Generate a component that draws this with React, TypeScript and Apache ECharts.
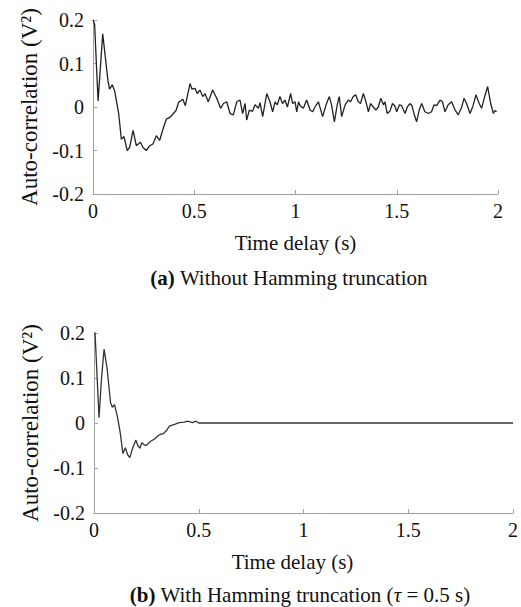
import React, { useEffect, useRef } from "react";
import * as echarts from "echarts";

const xTicks = [0, 0.5, 1, 1.5, 2];
const yTicks = [-0.2, -0.1, 0, 0.1, 0.2];

const topT = [0, 0.008, 0.025, 0.048, 0.074, 0.082, 0.095, 0.107, 0.127, 0.14, 0.153, 0.169, 0.181, 0.198, 0.214, 0.234, 0.247, 0.263, 0.28, 0.296, 0.313, 0.329, 0.346, 0.362, 0.379, 0.395, 0.41, 0.423, 0.444, 0.456, 0.479, 0.489, 0.504, 0.515, 0.528, 0.542, 0.553, 0.569, 0.591, 0.611, 0.63, 0.644, 0.66, 0.677, 0.693, 0.71, 0.726, 0.739, 0.751, 0.759, 0.772, 0.788, 0.8, 0.817, 0.825, 0.838, 0.858, 0.874, 0.887, 0.899, 0.91, 0.923, 0.936, 0.948, 0.96, 0.976, 0.986, 0.998, 1.006, 1.015, 1.023, 1.039, 1.055, 1.072, 1.085, 1.096, 1.113, 1.134, 1.151, 1.167, 1.178, 1.192, 1.206, 1.216, 1.228, 1.245, 1.261, 1.272, 1.285, 1.297, 1.31, 1.321, 1.335, 1.348, 1.36, 1.371, 1.384, 1.397, 1.409, 1.421, 1.434, 1.442, 1.453, 1.466, 1.479, 1.49, 1.5, 1.513, 1.524, 1.541, 1.552, 1.565, 1.575, 1.585, 1.598, 1.611, 1.623, 1.639, 1.656, 1.672, 1.684, 1.697, 1.714, 1.726, 1.738, 1.754, 1.771, 1.788, 1.804, 1.821, 1.832, 1.845, 1.862, 1.877, 1.891, 1.907, 1.919, 1.932, 1.949, 1.964, 1.977, 1.985, 1.993];
const topV = [0.2, 0.19, 0.014, 0.168, 0.06, 0.041, 0.051, 0.037, -0.016, -0.074, -0.068, -0.1, -0.093, -0.054, -0.089, -0.081, -0.093, -0.1, -0.089, -0.085, -0.066, -0.077, -0.05, -0.028, -0.024, -0.016, -0.008, 0.011, 0.018, 0.003, 0.054, 0.041, 0.043, 0.031, 0.039, 0.024, 0.031, 0.012, 0.039, 0.02, -0.003, 0.008, 0.012, -0.015, -0.018, 0.012, 0.016, -0.015, 0.008, -0.03, -0.007, -0.01, 0.005, -0.003, 0.01, -0.022, 0.031, 0.012, -0.011, 0.012, 0.005, 0.024, 0.008, 0.016, 0.0, 0.031, 0.008, 0.012, -0.011, 0.012, 0.003, -0.003, 0.016, -0.007, -0.011, 0.0, 0.012, -0.022, 0.005, 0.024, 0.005, -0.034, 0.005, 0.024, -0.022, 0.005, 0.016, 0.012, 0.024, 0.028, 0.012, 0.008, 0.031, 0.012, -0.011, 0.008, 0.0, -0.007, 0.0, 0.02, 0.005, 0.012, -0.015, -0.01, 0.008, 0.003, -0.011, 0.005, 0.003, -0.015, 0.0, 0.008, 0.003, -0.015, -0.034, -0.007, 0.008, -0.011, -0.015, -0.011, 0.005, 0.003, 0.016, 0.012, -0.011, 0.005, 0.012, -0.007, -0.018, 0.0, 0.02, 0.008, -0.015, 0.003, 0.028, 0.008, -0.003, 0.02, 0.047, 0.008, -0.015, -0.008, -0.011];

const botT = [0, 0.005, 0.024, 0.036, 0.048, 0.063, 0.079, 0.088, 0.098, 0.111, 0.125, 0.138, 0.15, 0.16, 0.171, 0.185, 0.2, 0.209, 0.219, 0.228, 0.238, 0.248, 0.258, 0.272, 0.288, 0.304, 0.317, 0.33, 0.344, 0.36, 0.384, 0.407, 0.431, 0.447, 0.47, 0.486, 0.5, 2];
const botV = [0.2, 0.2, 0.012, 0.1, 0.164, 0.119, 0.045, 0.035, 0.041, 0.016, -0.021, -0.068, -0.055, -0.07, -0.077, -0.055, -0.038, -0.05, -0.056, -0.044, -0.048, -0.05, -0.046, -0.04, -0.036, -0.029, -0.025, -0.024, -0.018, -0.007, -0.003, 0.001, 0.002, 0.004, 0.001, 0.004, 0.0, 0];

const FONT = "Liberation Serif";

export default function App() {
  const ref = useRef<HTMLDivElement>(null);
  useEffect(() => {
    if (!ref.current) return;
    const chart = echarts.init(ref.current, undefined, { renderer: "svg" });
    const fmt = (v: number) => {
      const r = Math.round(v * 10) / 10;
      return r === 0 ? "0" : String(r);
    };
    const mkX = (gi: number, shift: number) => ({
      type: "value" as const,
      gridIndex: gi,
      min: 0,
      max: 2,
      interval: 0.5,
      name: "Time delay (s)",
      nameLocation: "middle" as const,
      nameGap: 38,
      nameTextStyle: { fontFamily: FONT, fontSize: 21, color: "#111", padding: [0, shift, 0, 0] },
      axisLine: { show: true, onZero: false, lineStyle: { color: "#a0a0a0", width: 1 } },
      axisTick: { show: true, inside: true, length: 4, lineStyle: { color: "#a0a0a0" } },
      axisLabel: { fontFamily: FONT, fontSize: 20, color: "#111", margin: 7, formatter: fmt },
      splitLine: { show: false },
    });
    const mkY = (gi: number) => ({
      type: "value" as const,
      gridIndex: gi,
      min: -0.2,
      max: 0.2,
      interval: 0.1,
      name: "Auto-correlation (V²)",
      nameLocation: "middle" as const,
      nameGap: 50,
      nameTextStyle: { fontFamily: FONT, fontSize: 23, color: "#111" },
      axisLine: { show: true, onZero: false, lineStyle: { color: "#a0a0a0", width: 1 } },
      axisTick: { show: true, inside: true, length: 4, lineStyle: { color: "#a0a0a0" } },
      axisLabel: { fontFamily: FONT, fontSize: 20, color: "#111", margin: 9, formatter: fmt },
      splitLine: { show: false },
    });
    chart.setOption({
      animation: false,
      backgroundColor: "#ffffff",
      textStyle: { fontFamily: FONT },
      grid: [
        { left: 93, width: 405, top: 20, height: 174 },
        { left: 94, width: 421, top: 333, height: 180 },
      ],
      xAxis: [mkX(0, 0), mkX(1, 22)],
      yAxis: [mkY(0), mkY(1)],
      series: [
        {
          type: "line",
          xAxisIndex: 0,
          yAxisIndex: 0,
          data: topT.map((t, i) => [t, topV[i]]),
          showSymbol: false,
          lineStyle: { color: "#222", width: 1.3 },
        },
        {
          type: "line",
          xAxisIndex: 1,
          yAxisIndex: 1,
          data: botT.map((t, i) => [t, botV[i]]),
          showSymbol: false,
          lineStyle: { color: "#333", width: 1.3 },
        },
      ],
      graphic: [
        {
          type: "text",
          x: 289,
          y: 278,
          style: {
            text: "{b|(a)} Without Hamming truncation",
            align: "center",
            verticalAlign: "middle",
            fontFamily: FONT,
            fontSize: 21,
            fill: "#111",
            rich: { b: { fontWeight: "bold", fontFamily: FONT, fontSize: 21 } },
          },
        },
        {
          type: "text",
          x: 300,
          y: 595,
          style: {
            text: "{b|(b)} With Hamming truncation ({i|τ} = 0.5 s)",
            align: "center",
            verticalAlign: "middle",
            fontFamily: FONT,
            fontSize: 21,
            fill: "#111",
            rich: {
              b: { fontWeight: "bold", fontFamily: FONT, fontSize: 21 },
              i: { fontStyle: "italic", fontFamily: FONT, fontSize: 21 },
            },
          },
        },
      ],
    });
    return () => chart.dispose();
  }, []);
  return (
    <div
      ref={ref}
      style={{ position: "fixed", left: 0, top: 0, width: 521, height: 607 }}
    />
  );
}
